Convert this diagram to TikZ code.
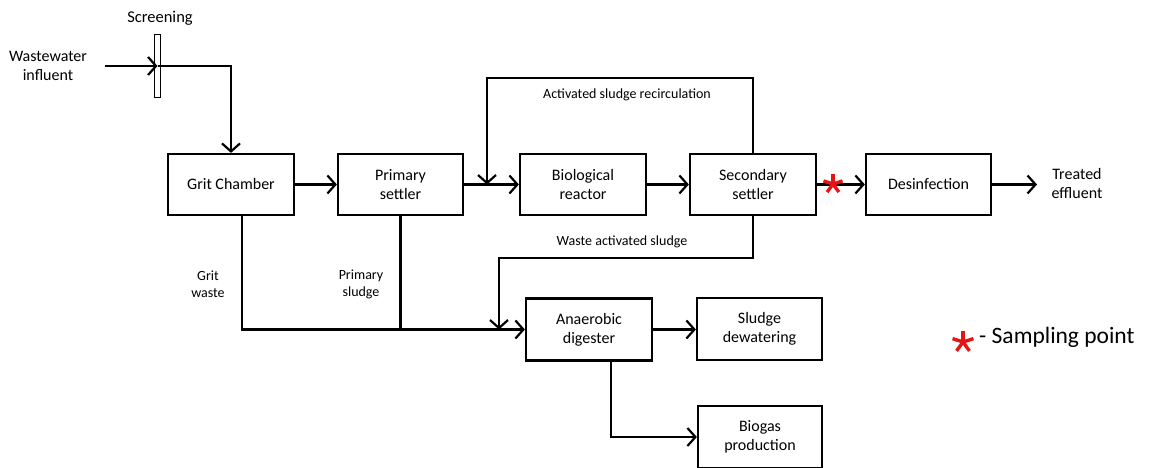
\documentclass[tikz,border=0pt]{standalone}
\usepackage{fontspec}
\setmainfont{Carlito}
\usetikzlibrary{arrows.meta}
\definecolor{astred}{RGB}{230,20,20}
\begin{document}
\begin{tikzpicture}[x=1pt,y=-1pt,
 box/.style={draw,line width=2.2pt,align=center,inner sep=0pt,font=\fontsize{16}{19}\selectfont},
 lbl/.style={align=center,inner sep=0pt,font=\fontsize{14}{17}\selectfont},
 flow/.style={line width=2.2pt,-{Straight Barb[length=8pt,width=18pt,line width=2.2pt]}},
 plain/.style={line width=2.2pt},
 ast/.pic={\foreach \a in {90,18,162,234,306}{\draw[astred,line width=3.4pt] (0,0) -- (\a:#1);}}]
\useasboundingbox (0,0) rectangle (1149,468);
% boxes
\node[box,minimum width=126pt,minimum height=61pt] (grit) at (231,184.5) {Grit Chamber};
\node[box,minimum width=125pt,minimum height=61pt] (prim) at (400.5,184.5) {Primary\\settler};
\node[box,minimum width=126pt,minimum height=61pt] (bio) at (583,184.5) {Biological\\reactor};
\node[box,minimum width=126pt,minimum height=61pt] (sec) at (753,184.5) {Secondary\\settler};
\node[box,minimum width=125pt,minimum height=61pt] (des) at (928.5,184.5) {Desinfection};
\node[box,minimum width=126pt,minimum height=62pt] (ana) at (589,329.5) {Anaerobic\\digester};
\node[box,minimum width=125pt,minimum height=62pt] (dew) at (759.5,329) {Sludge\\dewatering};
\node[box,minimum width=124pt,minimum height=62pt] (bgas) at (760,437) {Biogas\\production};
\node[draw,line width=1.6pt,minimum width=6pt,minimum height=63pt,inner sep=0pt] (screen) at (157.5,66) {};
% labels
\node[lbl,font=\fontsize{16}{19}\selectfont] (infl) at (48,66) {Wastewater\\influent};
\node[lbl,font=\fontsize{16.5}{19}\selectfont] (scrl) at (160,18) {Screening};
\node[lbl,font=\fontsize{16}{19}\selectfont] (effl) at (1077,184) {Treated\\effluent};
\node[lbl] (recl) at (627,95) {Activated sludge recirculation};
\node[lbl] (wasl) at (622,242) {Waste activated sludge};
\node[lbl] (gwl) at (208,284) {Grit\\waste};
\node[lbl] (psl) at (361,284) {Primary\\sludge};
\node[anchor=west,inner sep=0pt,font=\fontsize{23.5}{26}\selectfont] (legl) at (979,337) {- Sampling point};
% coordinates
\coordinate (inflow) at (105,66);
\coordinate (rtop) at (487,78);
\coordinate (j1) at (487,184.5);
\coordinate (wtop) at (499,258);
\coordinate (eff) at (1037,184.5);
% connectors
\draw[flow] (inflow) -- (screen.center);
\draw[flow] (screen.center) -| (grit.north);
\draw[flow] (grit.east) -- (prim.west);
\draw[flow] (prim.east) -- (bio.west);
\draw[flow] (sec.north) |- (rtop) -- (j1);
\draw[flow] (bio.east) -- (sec.west);
\draw[flow] (sec.east) -- (des.west);
\draw[flow] (des.east) -- (eff);
\draw[flow] (sec.south) |- (wtop) -- (ana.west -| wtop);
\draw[flow] ([xshift=11pt]grit.south) |- (ana.west);
\draw[plain] (prim.south) -- (prim.south |- ana.west);
\draw[flow] (ana.east) -- (dew.west |- ana.east);
\draw[flow] ([xshift=22pt]ana.south) |- (bgas.west);
% sampling points
\pic at (833,184) {ast=10pt};
\pic at (963,342) {ast=11pt};
\end{tikzpicture}
\end{document}
